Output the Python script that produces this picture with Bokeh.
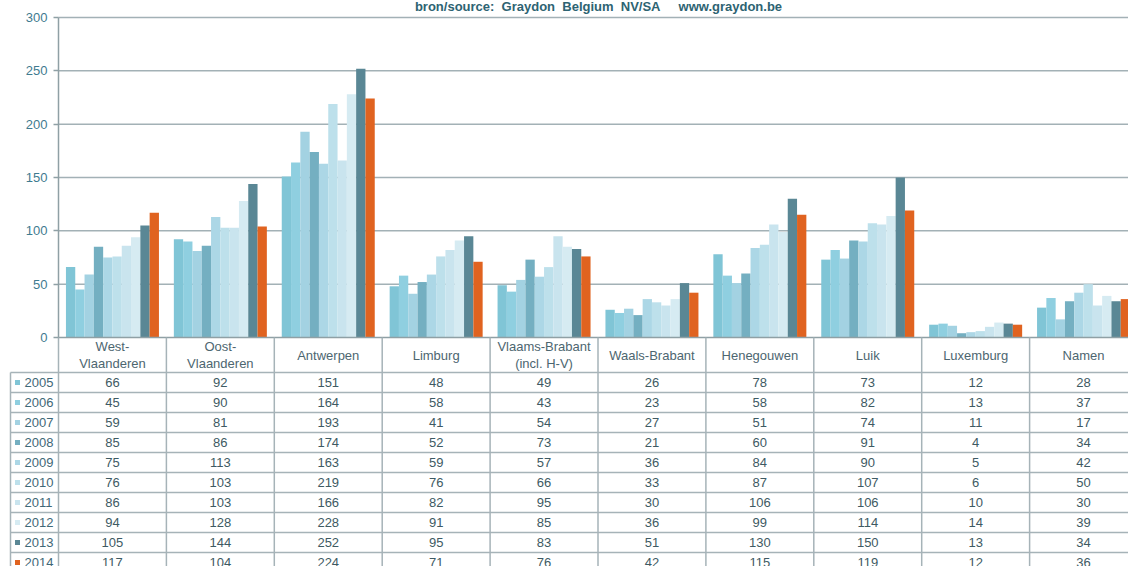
from bokeh.plotting import figure
from bokeh.models import FixedTicker
from bokeh.core.properties import value
from bokeh.embed import file_html
from bokeh.resources import INLINE

# ---------------- data ----------------
regions = ["West-\nVlaanderen", "Oost-\nVlaanderen", "Antwerpen", "Limburg",
           "Vlaams-Brabant\n(incl. H-V)", "Waals-Brabant", "Henegouwen", "Luik",
           "Luxemburg", "Namen"]
years = ["2005", "2006", "2007", "2008", "2009", "2010", "2011", "2012", "2013", "2014"]
v2005 = [66, 92, 151, 48, 49, 26, 78, 73, 12, 28]
v2006 = [45, 90, 164, 58, 43, 23, 58, 82, 13, 37]
v2007 = [59, 81, 193, 41, 54, 27, 51, 74, 11, 17]
v2008 = [85, 86, 174, 52, 73, 21, 60, 91, 4, 34]
v2009 = [75, 113, 163, 59, 57, 36, 84, 90, 5, 42]
v2010 = [76, 103, 219, 76, 66, 33, 87, 107, 6, 50]
v2011 = [86, 103, 166, 82, 95, 30, 106, 106, 10, 30]
v2012 = [94, 128, 228, 91, 85, 36, 99, 114, 14, 39]
v2013 = [105, 144, 252, 95, 83, 51, 130, 150, 13, 34]
v2014 = [117, 104, 224, 71, 76, 42, 115, 119, 12, 36]
y_ticks = [0, 50, 100, 150, 200, 250, 300]
title_text = "bron/source:\u00a0 Graydon\u00a0 Belgium\u00a0 NV/SA\u00a0\u00a0\u00a0\u00a0 www.graydon.be"

series = [v2005, v2006, v2007, v2008, v2009, v2010, v2011, v2012, v2013, v2014]
colors = ["#80c5d6", "#8fcfe0", "#a3d2e2", "#74afc1", "#acd7e6",
          "#bde0eb", "#c9e4ee", "#d6ebf2", "#5a8795", "#e06320"]

# ---------------- layout (picture pixels -> data) ----------------
FIG_W, FIG_H = 1128, 566
LEFT_PX = 58       # x of first category start
KX = 107.9         # px per category
ZERO_PY = 337      # y of value 0
KY = 320.0 / 300.0 # px per unit


def X(px):
    return -0.5 + (px - LEFT_PX) / KX


def Y(py):
    return (ZERO_PY - py) / KY


p = figure(width=FIG_W, height=FIG_H, output_backend="svg", toolbar_location=None,
           x_range=(X(0), X(FIG_W)), y_range=(Y(FIG_H), Y(0)),
           x_axis_type=None, min_border=0, outline_line_color=None)
p.xgrid.visible = False
p.ygrid.visible = False
p.background_fill_color = "white"

GRID = "#a3b1b6"
LINE = "#a6b3b8"
FONT = value("Liberation Sans")
FS = "13px"

# gridlines
gy = [t for t in y_ticks if t > 0]
p.segment(x0=[X(LEFT_PX)] * len(gy), x1=[X(1140)] * len(gy), y0=gy, y1=gy,
          line_color=GRID, line_width=1.5)

# bars
n = len(years)
bw = 9.3 / KX
for j, (vals, col) in enumerate(zip(series, colors)):
    xs = [i + (j - (n - 1) / 2) * bw for i in range(len(regions))]
    p.vbar(x=xs, top=vals, bottom=0, width=bw, fill_color=col, line_color=None)

# y axis
ax = p.yaxis[0]
ax.fixed_location = -0.5
ax.bounds = (0, 300)
ax.ticker = FixedTicker(ticks=y_ticks)
ax.axis_line_color = "#8fa0a5"
ax.axis_line_width = 1.5
ax.major_tick_line_color = "#8fa0a5"
ax.major_tick_line_width = 1.5
ax.major_tick_out = 5
ax.major_tick_in = 0
ax.minor_tick_line_color = None
ax.major_label_text_font = "Liberation Sans"
ax.major_label_text_font_size = FS
ax.major_label_text_color = "#3f7b90"
ax.major_label_standoff = 6

# ---------------- table ----------------
x_right = X(1140)
p.segment(x0=[-0.5], x1=[x_right], y0=[0], y1=[0], line_color="#8fa0a5", line_width=1.5)
row_tops = [372 + 20 * k for k in range(len(years))]
p.segment(x0=[X(10)] * len(row_tops), x1=[x_right] * len(row_tops),
          y0=[Y(py) for py in row_tops], y1=[Y(py) for py in row_tops],
          line_color=LINE, line_width=1.5)
vx = [i - 0.5 for i in range(len(regions) + 1)]
p.segment(x0=vx, x1=vx, y0=[0] * len(vx), y1=[Y(580)] * len(vx),
          line_color=LINE, line_width=1.5)
p.segment(x0=[X(10)], x1=[X(10)], y0=[Y(372)], y1=[Y(580)], line_color=LINE, line_width=1.5)

p.text(x=list(range(len(regions))), y=[Y(354.5)] * len(regions), text=regions,
       text_align="center", text_baseline="middle", text_font=FONT,
       text_font_size=FS, text_color="#4d6670", text_line_height=1.15)

tx, ty, tt = [], [], []
for r, vals in enumerate(series):
    for i, v in enumerate(vals):
        tx.append(i)
        ty.append(Y(382 + 20 * r))
        tt.append(str(v))
p.text(x=tx, y=ty, text=tt, text_align="center", text_baseline="middle",
       text_font=FONT, text_font_size=FS, text_color="#3e5a63")

ly = [Y(382 + 20 * r) for r in range(len(years))]
p.scatter(x=[X(17)] * len(years), y=ly, marker="square", size=5,
          fill_color=colors, line_color=None)
p.text(x=[X(24)] * len(years), y=ly, text=years, text_align="left",
       text_baseline="middle", text_font=FONT, text_font_size=FS,
       text_color="#3f6877")

p.text(x=[X(598)], y=[Y(6)], text=[title_text], text_align="center",
       text_baseline="middle", text_font=FONT, text_font_size="13px",
       text_font_style="bold", text_color="#2d6372")

open("out.html", "w").write(file_html(p, INLINE))
